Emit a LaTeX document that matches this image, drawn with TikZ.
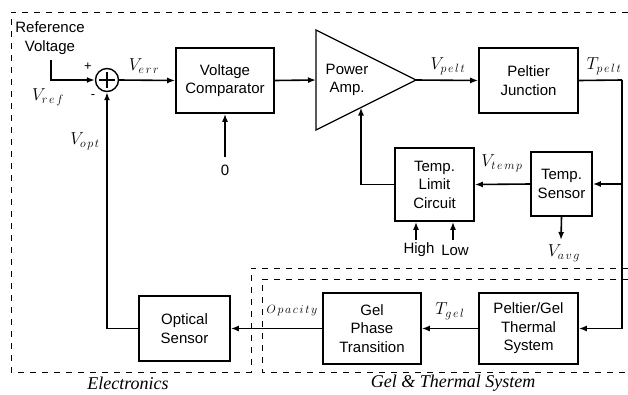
\documentclass[tikz,border=0pt]{standalone}
\usepackage{fontspec}
\newfontfamily\boxfont{Liberation Sans}
\newfontfamily\regfont{Liberation Serif}
\usetikzlibrary{arrows.meta,calc}
\newcommand\kk{\mkern2.5mu}
\begin{document}
\begin{tikzpicture}[x=1pt,y=-1pt,
  blk/.style={draw,line width=1.6pt,rectangle,inner sep=0pt,align=center,
    font=\boxfont\fontsize{15}{18.5}\selectfont},
  conn/.style={line width=1.6pt},
  arr/.style={line width=1.6pt,-{Latex[length=8pt,width=6pt]}},
  region/.style={line width=0.8pt,dash pattern=on 6pt off 6pt},
  sig/.style={font=\fontsize{18}{20}\selectfont,inner sep=0pt},
  txt/.style={font=\boxfont\fontsize{15}{18.5}\selectfont,inner sep=0pt,align=center},
  reg/.style={font=\regfont\itshape\fontsize{18}{20}\selectfont,inner sep=0pt}]
\useasboundingbox (0,0) rectangle (628,394);

% regions
\draw[region] (628,12) -- (11,12) -- (11,372) -- (251,372) -- (251,268) -- (628,268);
\draw[region] (628,279) -- (262,279) -- (262,372) -- (628,372);
\node[reg] (elec) at (128,383) {Electronics};
\node[reg] (gelts) at (453,383) {Gel \& Thermal System};

% blocks
\node[blk,minimum width=98pt,minimum height=65pt] (vc) at (225,80.5) {Voltage\\Comparator};
\node[blk,minimum width=99pt,minimum height=65pt] (pj) at (528.5,80.5) {Peltier\\Junction};
\node[blk,minimum width=61pt,minimum height=64pt] (ts) at (561.5,184) {Temp.\\Sensor};
\node[blk,minimum width=79pt,minimum height=73pt] (tlc) at (434.5,184.5) {Temp.\\Limit\\Circuit};
\node[blk,minimum width=99pt,minimum height=71pt] (pgts) at (528.5,328.5) {Peltier/Gel\\Thermal\\System};
\node[blk,minimum width=98pt,minimum height=71pt] (gpt) at (372,328.5) {Gel\\Phase\\Transition};
\node[blk,minimum width=91pt,minimum height=65pt] (os) at (184.5,328.5) {Optical\\Sensor};

% power amplifier
\draw[line width=1.2pt,line join=miter] (316,30) -- (416,80) -- (316,130) -- cycle;
\node[txt] (amp) at (347,80) {Power\\Amp.};
\coordinate (ampin) at (316,80);
\coordinate (ampout) at (416,80);
\coordinate (ampfb) at (361,107.5);

% summing junction
\node[draw,circle,line width=1.4pt,minimum size=23pt,inner sep=0pt] (sum) at (107,80) {};
\draw[line width=1.6pt] ($(sum.center)+(-8,0)$) -- ($(sum.center)+(8,0)$);
\draw[line width=1.6pt] ($(sum.center)+(0,-8)$) -- ($(sum.center)+(0,8)$);

% inputs
\node[txt] (ref) at (50,38) {Reference\\Voltage};
\coordinate (refstart) at (51,60);
\node[txt] (zero) at (225,170) {0};
\node[txt] (high) at (419,250) {High};
\node[txt] (low) at (455,250) {Low};
\coordinate (hi1) at (416,240);
\coordinate (lo1) at (453,240);
\coordinate (vavg) at (561,240);
\coordinate (rc) at (622,80);

% connectors
\draw[arr] (refstart) |- (sum.west);
\draw[arr] (sum.east) -- (vc.west);
\draw[arr] (225,157) -- (vc.south);
\draw[arr] (vc.east) -- (ampin);
\draw[arr] (ampout) -- (pj.west);
\draw[conn] (pj.east) -- (rc);
\draw[arr] (rc) |- (pgts.east);
\draw[arr] (rc |- ts.east) -- (ts.east);
\draw[arr] (ts.west) -- (tlc.east);
\draw[arr] (tlc.west) -| (ampfb);
\draw[arr] (hi1) -- (hi1 |- tlc.south);
\draw[arr] (lo1) -- (lo1 |- tlc.south);
\draw[arr] (ts.south) -- (vavg);
\draw[arr] (pgts.west) -- (gpt.east);
\draw[arr] (gpt.west) -- (os.east);
\draw[arr] (os.west) -| (sum.south);

% signal labels
\node[txt,font=\boxfont\fontsize{13}{15}\selectfont] (plus) at (88,67) {+};
\node[txt,font=\boxfont\fontsize{13}{15}\selectfont] (minus) at (93,97) {-};
\node[sig] (verr) at (144,66) {$V_{e\kk r\kk r}$};
\node[sig] (vref) at (48,97) {$V_{r\kk e\kk f}$};
\node[sig] (vopt) at (85,141) {$V_{o\kk p\kk t}$};
\node[sig] (vpelt) at (448,66) {$V_{p\kk e\kk l\kk t}$};
\node[sig] (tpelt) at (604,66) {$T_{p\kk e\kk l\kk t}$};
\node[sig] (vtemp) at (502,163) {$V_{t\kk e\kk m\kk p}$};
\node[sig] (vavgl) at (564,253) {$V_{a\kk v\kk g}$};
\node[sig] (tgel) at (450,311) {$T_{g\kk e\kk l}$};
\node[sig,font=\fontsize{13}{15}\selectfont] (opac) at (292,311) {$O\kk p\kk a\kk c\kk i\kk t\kk y$};
\end{tikzpicture}
\end{document}
